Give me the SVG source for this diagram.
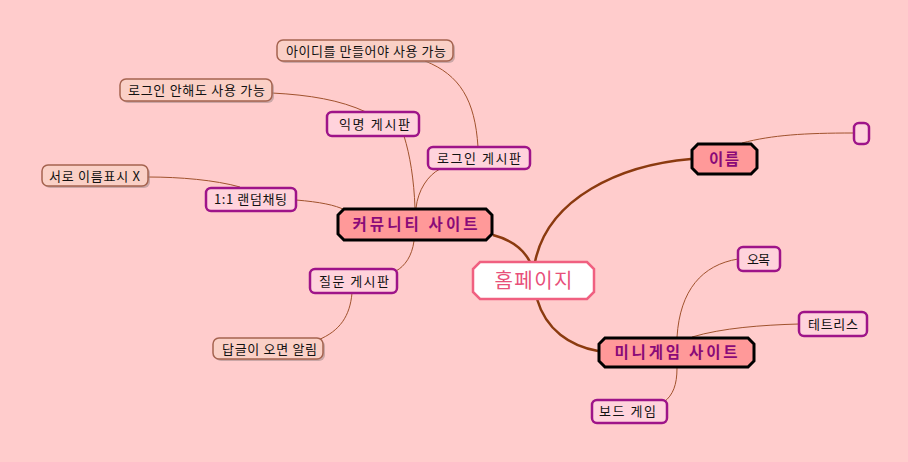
<svg xmlns="http://www.w3.org/2000/svg" width="908" height="462" viewBox="0 0 908 462">
<defs>
<style>
.bg{fill:#FFCCCC}
.main{stroke:#8B3A0F;stroke-width:2.5;fill:none}
.thin{stroke:#A0522D;stroke-width:1;fill:none}
.l1{fill:#FF9999;stroke:#000;stroke-width:3}
.l1t{font-family:"Noto Sans CJK KR","Noto Sans",sans-serif;font-weight:bold;font-size:15.5px;fill:#8A0A78;text-anchor:middle}
.l2{fill:#FFD3DC;stroke:#9E1489;stroke-width:2.5}
.l3{fill:#FAD0C6;stroke:#A5634F;stroke-width:1.5}
.sh{fill:#A08888;opacity:0.55}
.t{font-family:"Noto Sans CJK KR","Noto Sans",sans-serif;font-size:13px;fill:#111;text-anchor:middle}
</style>
</defs>
<rect class="bg" x="0" y="0" width="908" height="462"/>
<g id="connectors">
<path class="main" d="M493,235 C512,240 524,250 530,262"/>
<path class="main" d="M535,262 C548,198 620,165 691,159"/>
<path class="main" d="M537,299 C546,330 570,346 598,351"/>
<path class="thin" d="M742,143 C772,135 805,133 853,133"/>
<path class="thin" d="M677,337 C680,290 702,265 738,259"/>
<path class="thin" d="M692,337 C722,328 762,325 799,324"/>
<path class="thin" d="M677,368 C677,385 673,395 664,402"/>
<path class="thin" d="M415,208 C414,180 410,155 404,136"/>
<path class="thin" d="M416,208 C418,190 428,175 440,169"/>
<path class="thin" d="M296,200 C320,202 335,205 345,210"/>
<path class="thin" d="M414,241 C412,256 405,266 396,271"/>
<path class="thin" d="M366,112 C340,100 310,95 272,93"/>
<path class="thin" d="M478,147 C475,100 460,75 425,61"/>
<path class="thin" d="M240,187 C215,180 180,177 148,177"/>
<path class="thin" d="M352,293 C350,316 340,331 318,340"/>
</g>
<g id="n-home">
<polygon points="480,262 587,262 594,269 594,292 587,299 480,299 473,292 473,269" fill="#FFFFFF" stroke="#F06080" stroke-width="2.5"/>
<text x="533.5" y="288" font-family="Noto Sans CJK KR,Noto Sans,sans-serif" font-size="20" fill="#E8507A" text-anchor="middle" textLength="78" lengthAdjust="spacing">홈페이지</text>
</g>
<g id="n-community">
<polygon class="l1" points="344,209 486,209 492,215 492,234 486,240 344,240 338,234 338,215"/>
<text class="l1t" x="415" y="230" textLength="125" lengthAdjust="spacing">커뮤니티 사이트</text>
</g>
<g id="n-name">
<polygon class="l1" points="698,144 751,144 757,150 757,168 751,174 698,174 692,168 692,150"/>
<text class="l1t" x="724" y="164.5" textLength="30" lengthAdjust="spacing">이름</text>
</g>
<g id="n-minigame">
<polygon class="l1" points="605,338 748,338 754,344 754,361 748,367 605,367 599,361 599,344"/>
<text class="l1t" x="676" y="358" textLength="123" lengthAdjust="spacing">미니게임 사이트</text>
</g>
<g id="n-empty">
<rect class="l2" x="854" y="123" width="15" height="21" rx="5"/>
</g>
<g id="n-anon">
<rect class="l2" x="327" y="112" width="92" height="24" rx="5"/>
<text class="t" x="374.5" y="128.5" textLength="71" lengthAdjust="spacing">익명 게시판</text>
</g>
<g id="n-login">
<rect class="l2" x="428" y="147" width="102" height="22" rx="5"/>
<text class="t" x="479" y="162.5" textLength="84" lengthAdjust="spacing">로그인 게시판</text>
</g>
<g id="n-chat">
<rect class="l2" x="206" y="188" width="90" height="23" rx="5"/>
<text class="t" x="250.5" y="204" textLength="73" lengthAdjust="spacing">1:1 랜덤채팅</text>
</g>
<g id="n-question">
<rect class="l2" x="310" y="269" width="87" height="24" rx="5"/>
<text class="t" x="354" y="285.5" textLength="70" lengthAdjust="spacing">질문 게시판</text>
</g>
<g id="n-omok">
<rect class="l2" x="738" y="247" width="42" height="24" rx="5"/>
<text class="t" x="758.5" y="263.5" textLength="23" lengthAdjust="spacing">오목</text>
</g>
<g id="n-tetris">
<rect class="l2" x="799" y="312" width="68" height="24" rx="5"/>
<text class="t" x="833" y="328.5" textLength="50" lengthAdjust="spacing">테트리스</text>
</g>
<g id="n-board">
<rect class="l2" x="592" y="400" width="75" height="23" rx="5"/>
<text class="t" x="627.5" y="416" textLength="57" lengthAdjust="spacing">보드 게임</text>
</g>
<g id="n-needid">
<rect class="sh" x="279" y="42" width="176" height="21" rx="6"/>
<rect class="l3" x="277" y="40" width="176" height="21" rx="6"/>
<text class="t" x="366" y="55.5" textLength="160" lengthAdjust="spacing">아이디를 만들어야 사용 가능</text>
</g>
<g id="n-nologin">
<rect class="sh" x="122" y="81" width="152" height="22" rx="6"/>
<rect class="l3" x="120" y="79" width="152" height="22" rx="6"/>
<text class="t" x="196.5" y="95" textLength="137" lengthAdjust="spacing">로그인 안해도 사용 가능</text>
</g>
<g id="n-noname">
<rect class="sh" x="44" y="167" width="106" height="21" rx="6"/>
<rect class="l3" x="42" y="165" width="106" height="21" rx="6"/>
<text class="t" x="94.5" y="180.5" textLength="91" lengthAdjust="spacing">서로 이름표시 X</text>
</g>
<g id="n-reply">
<rect class="sh" x="215" y="340" width="110" height="21" rx="6"/>
<rect class="l3" x="213" y="338" width="110" height="21" rx="6"/>
<text class="t" x="269.5" y="353.5" textLength="95" lengthAdjust="spacing">답글이 오면 알림</text>
</g>
</svg>
